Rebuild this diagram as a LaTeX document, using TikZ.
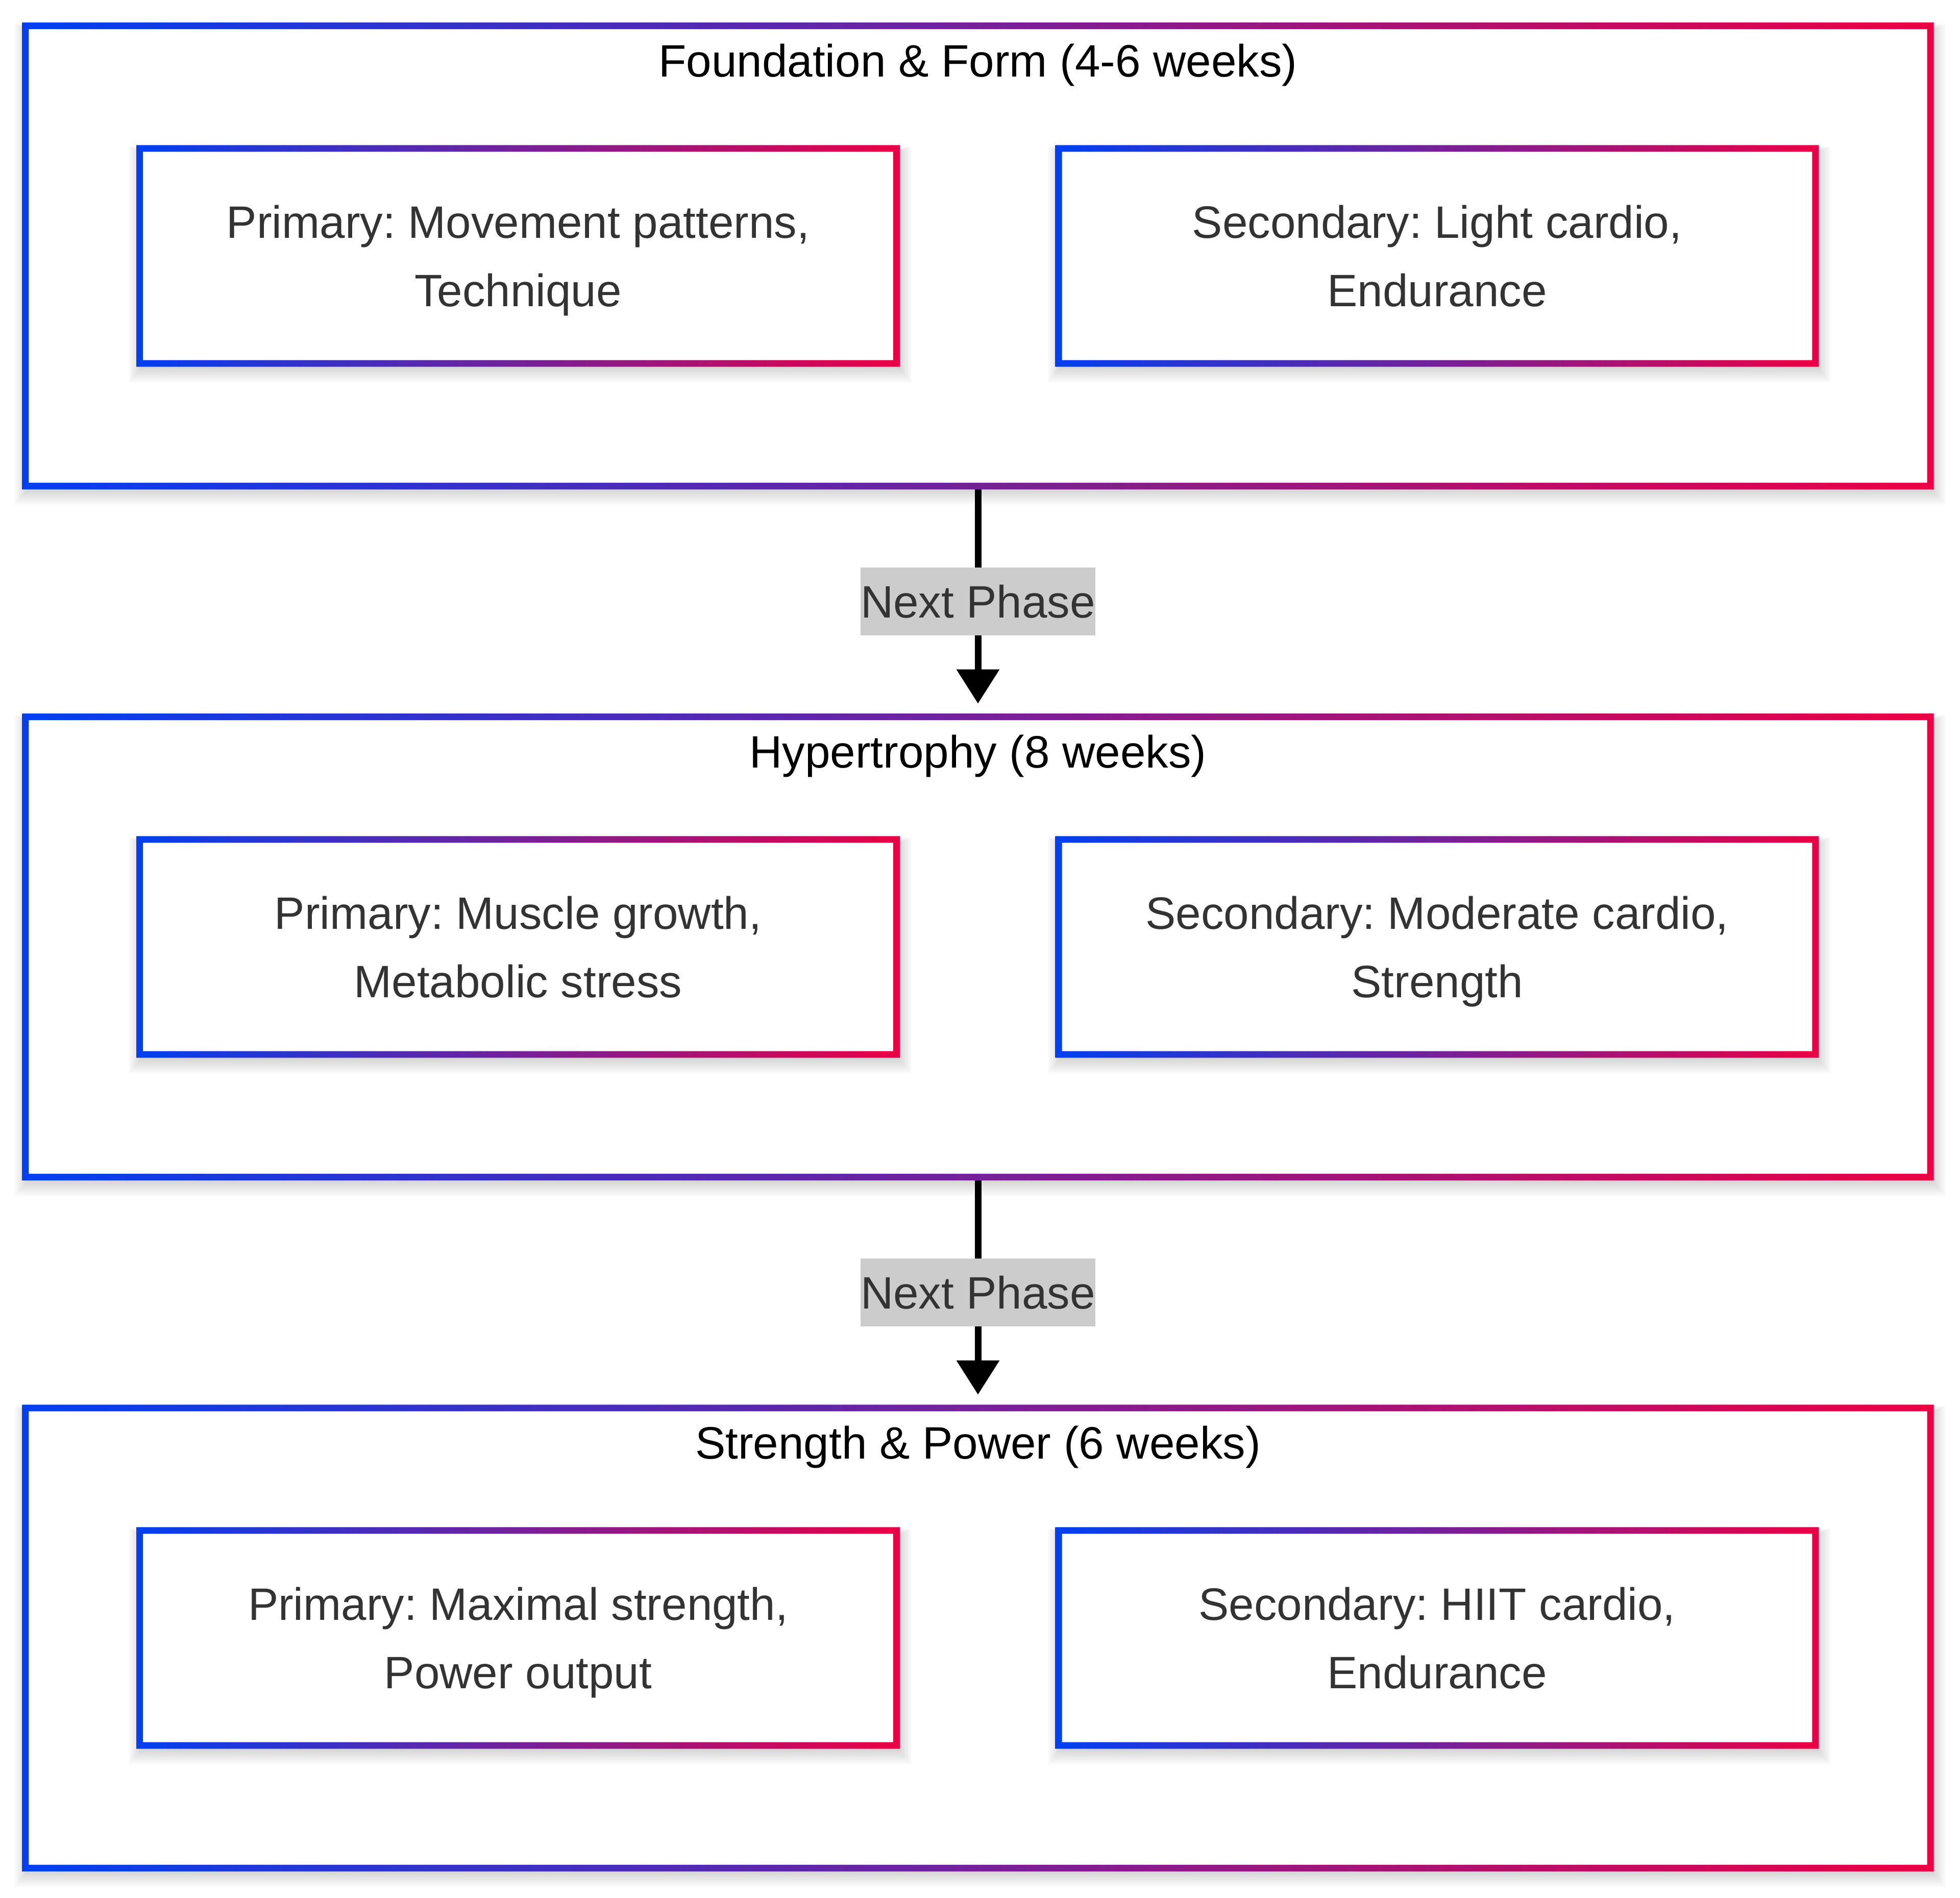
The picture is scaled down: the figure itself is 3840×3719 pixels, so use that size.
\documentclass[tikz,border=0pt]{standalone}
\usepackage{fontspec}
\setmainfont{Liberation Sans}
\frenchspacing
\usetikzlibrary{arrows.meta,calc}
\definecolor{gblue}{HTML}{0040F0}
\definecolor{gred}{HTML}{EB0044}
\definecolor{txtgray}{HTML}{333333}
\definecolor{lblgray}{HTML}{CCCCCC}
\newcommand\tstrut{\rule{0pt}{0.94cm}}
\newcommand\bstrut{\rule[-0.3cm]{0pt}{0.3cm}}
\pgfdeclarelayer{lzero}
\pgfdeclarelayer{lone}
\pgfdeclarelayer{ltwo}
\pgfsetlayers{lzero,lone,ltwo,main}
\newcommand\softshadow[1]{%
  \foreach \k in {1,...,10}{%
    \fill[black,opacity=0.017] ($(#1.north west)+(4-\k*2.6,8-\k*1.2)$) rectangle ($(#1.south east)+(4+\k*2.6,8+\k*3)$);
  }}
\newcommand\gframe[1]{%
  \shade[left color=gblue,right color=gred,even odd rule]
    ($(#1.north west)+(-6.5,-6.5)$) rectangle ($(#1.south east)+(6.5,6.5)$)
    ($(#1.north west)+(6.5,6.5)$) rectangle ($(#1.south east)+(-6.5,-6.5)$);}
\newcommand\decobox[2]{%
  \begin{pgfonlayer}{#2}
    \softshadow{#1}
    \fill[white] (#1.north west) rectangle (#1.south east);
    \gframe{#1}
  \end{pgfonlayer}}
\tikzset{
  phase/.style={inner sep=0pt,outer sep=0pt,minimum width=37.30cm,minimum height=9.01cm},
  goal/.style={inner sep=0pt,outer sep=0pt,minimum width=14.82cm,minimum height=4.21cm,
    font=\fontsize{25.3}{38.1}\selectfont,text=txtgray,align=center},
  ttl/.style={inner sep=0pt,font=\fontsize{25.3}{38.1}\selectfont,text=black},
  lbl/.style={fill=lblgray,inner xsep=0pt,inner ysep=0pt,minimum height=1.33cm,
    font=\fontsize{25.3}{38.1}\selectfont,text=txtgray},
  flow/.style={line width=0.13cm,-{Triangle[width=0.81cm,length=0.67cm]},
    shorten <=0.065cm,shorten >=0.26cm}
}
\begin{document}
\begin{tikzpicture}[x=0.01cm,y=-0.01cm]
\begin{pgfonlayer}{lzero}
  \fill[white] (0,0) rectangle (3840,3719);
\end{pgfonlayer}
\useasboundingbox (0,0) rectangle (3840,3719);

% phases
\node[phase] (p1) at (1916,501.5) {};
\node[phase] (p2) at (1916,1855.5) {};
\node[phase] (p3) at (1916,3209.5) {};
\decobox{p1}{lone}
\decobox{p2}{lone}
\decobox{p3}{lone}

\node[ttl] (t1) at (1916,118) {\tstrut Foundation \& Form (4-6 weeks)\bstrut};
\node[ttl] (t2) at (1916,1472) {\tstrut Hypertrophy (8 weeks)\bstrut};
\node[ttl] (t3) at (1916,2826) {\tstrut Strength \& Power (6 weeks)\bstrut};

% goals
\node[goal] (g1a) at (1015,501.5) {\tstrut Primary: Movement patterns,\\Technique\bstrut};
\node[goal] (g1b) at (2815.5,501.5) {\tstrut Secondary: Light cardio,\\Endurance\bstrut};
\node[goal] (g2a) at (1015,1855.5) {\tstrut Primary: Muscle growth,\\Metabolic stress\bstrut};
\node[goal] (g2b) at (2815.5,1855.5) {\tstrut Secondary: Moderate cardio,\\Strength\bstrut};
\node[goal] (g3a) at (1015,3209.5) {\tstrut Primary: Maximal strength,\\Power output\bstrut};
\node[goal] (g3b) at (2815.5,3209.5) {\tstrut Secondary: HIIT cardio,\\Endurance\bstrut};
\foreach \g in {g1a,g1b,g2a,g2b,g3a,g3b}{\decobox{\g}{ltwo}}

% transitions
\draw[flow] (p1.south) -- node[lbl] (n1) {\tstrut Next Phase\bstrut} (p2.north);
\draw[flow] (p2.south) -- node[lbl] (n2) {\tstrut Next Phase\bstrut} (p3.north);
\end{tikzpicture}
\end{document}
